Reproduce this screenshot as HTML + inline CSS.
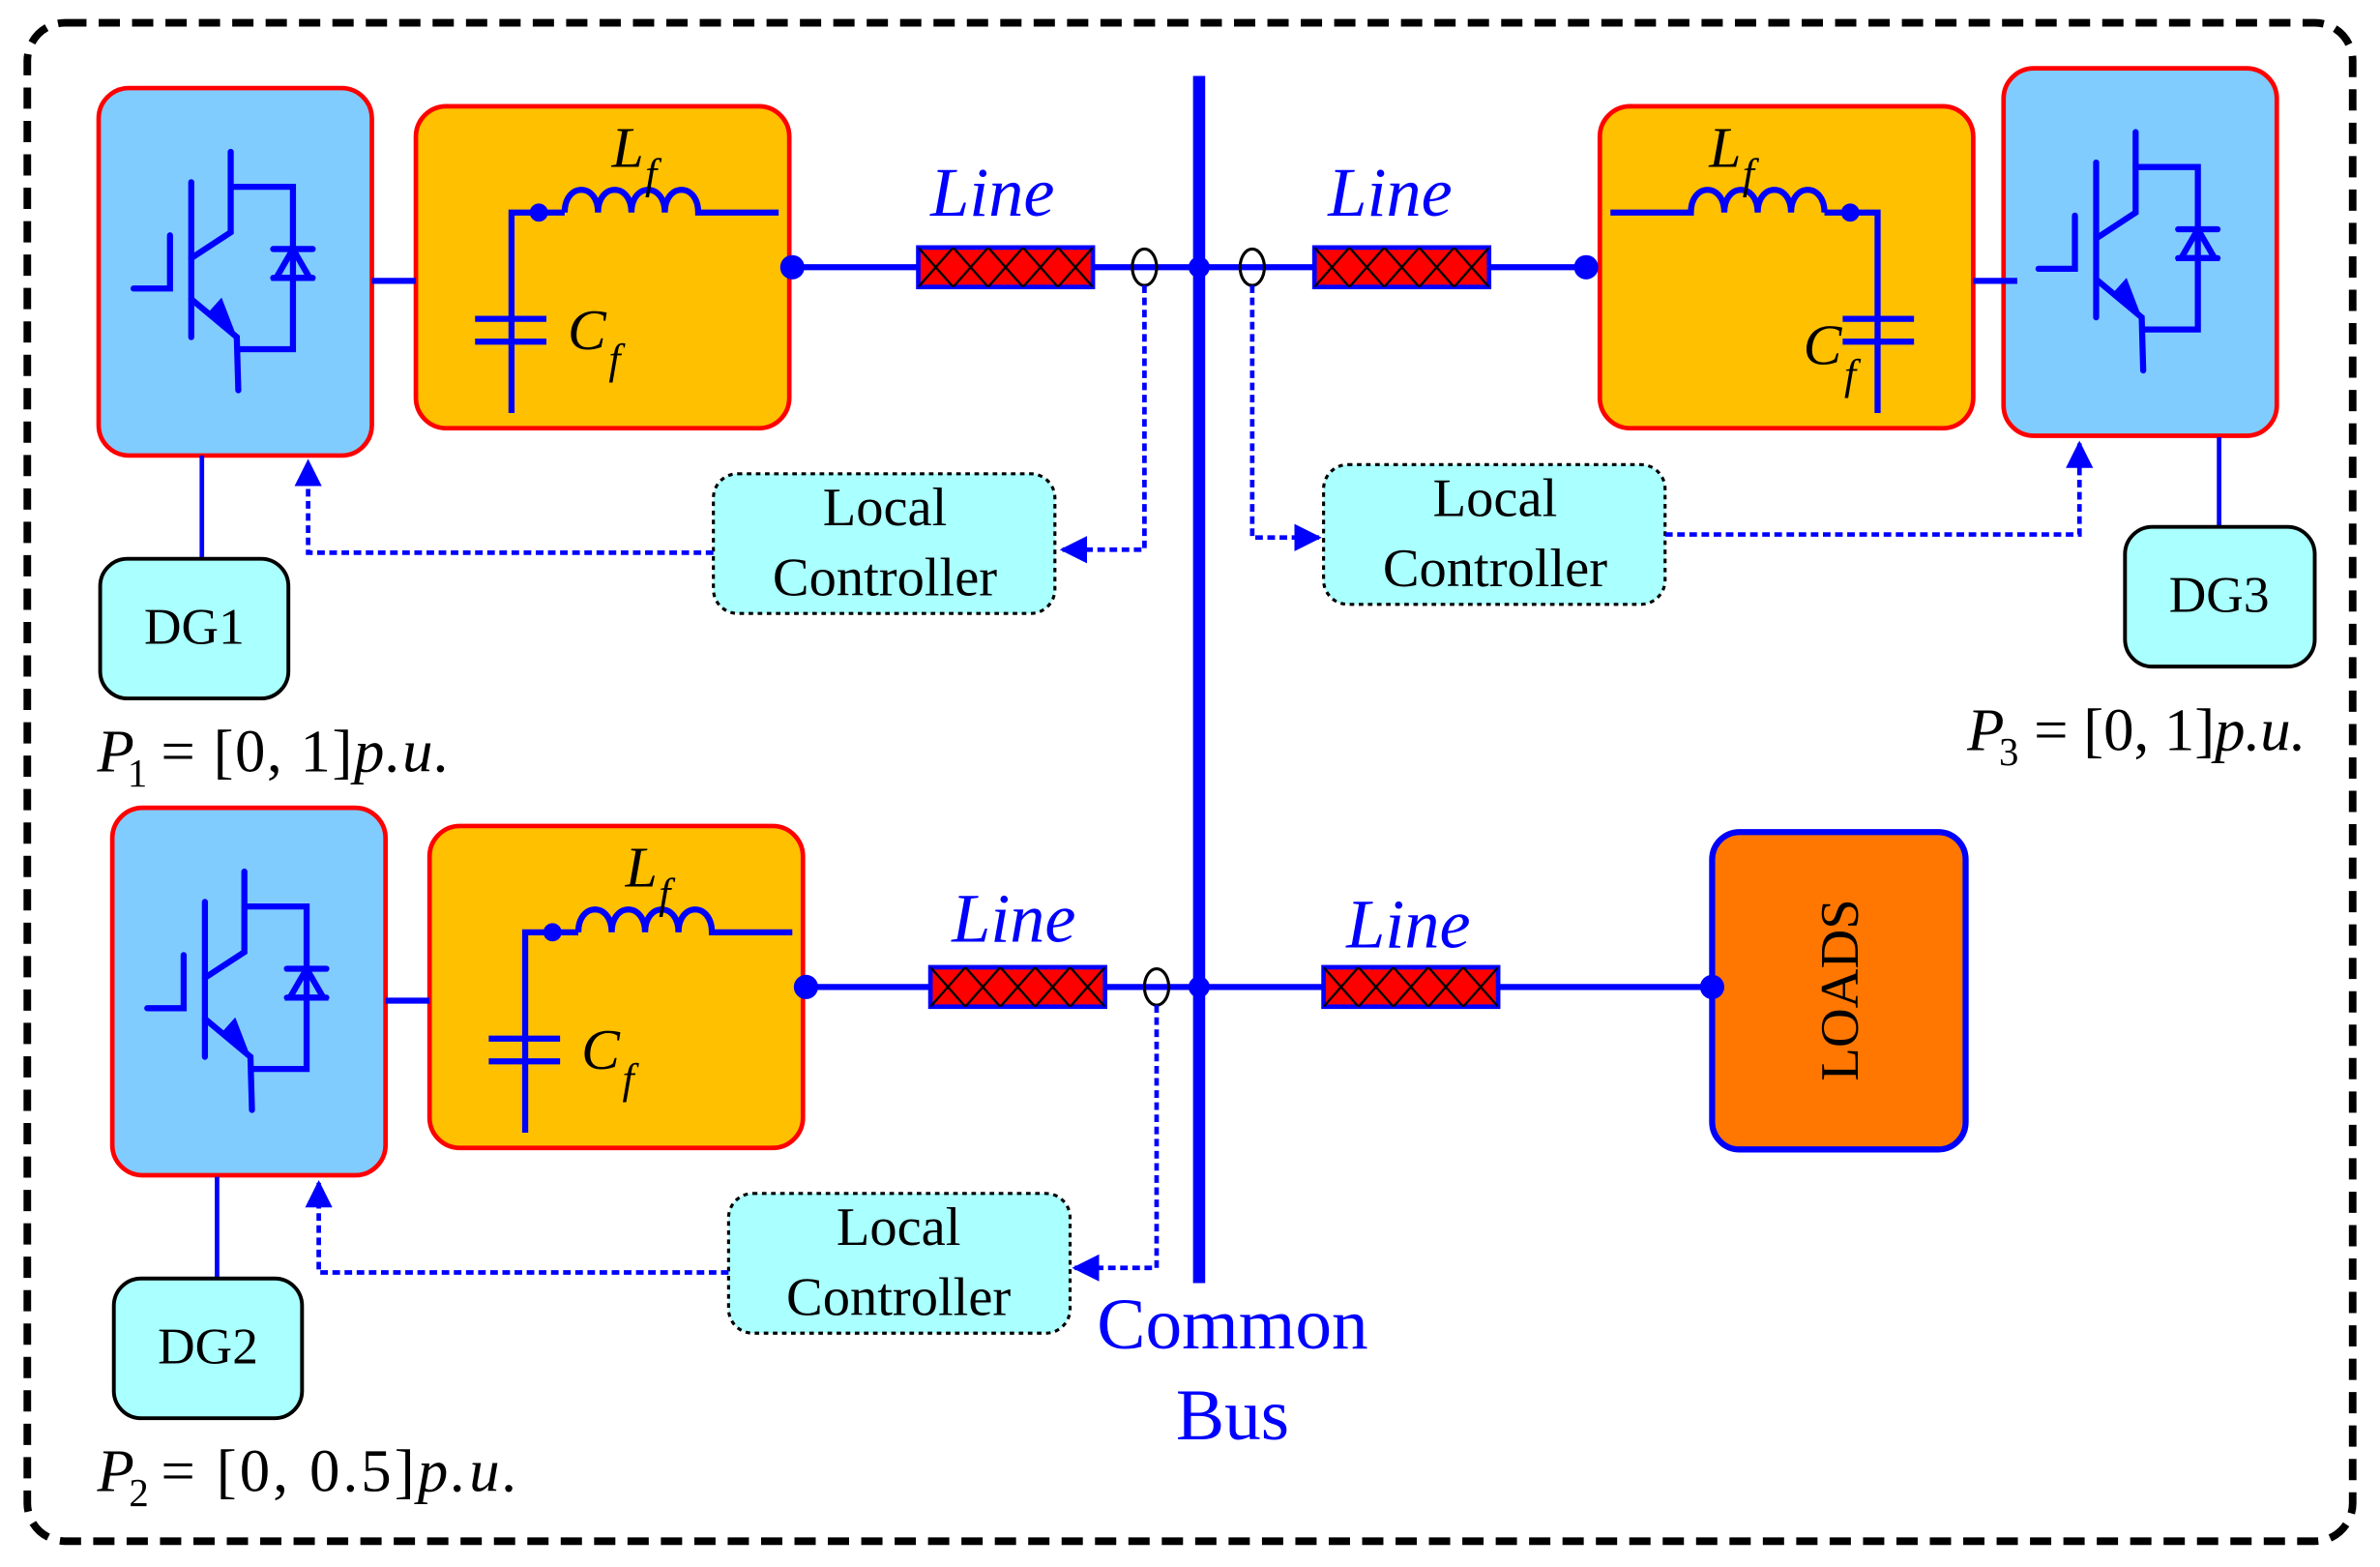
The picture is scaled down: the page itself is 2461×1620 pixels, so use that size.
<!DOCTYPE html>
<html><head><style>html,body{margin:0;padding:0;background:#fff}svg{display:block}</style></head><body>
<svg width="2461" height="1620" viewBox="0 0 1568 1032" preserveAspectRatio="none" xmlns="http://www.w3.org/2000/svg" font-family="Liberation Serif, serif">
<defs>
<g id="inv">
<rect x="65" y="58" width="180" height="242" rx="20" fill="#80ccff" stroke="#f00" stroke-width="3"/>
<g stroke="#00f" stroke-width="4" fill="none" stroke-linecap="round">
<polyline points="88,190 112,190 112,155"/>
<line x1="126" y1="120" x2="126" y2="222"/>
<polyline points="126,170 152,153 152,100"/>
<polyline points="152,123 193,123 193,230 157,230"/>
<polyline points="126,197 156,222 157,257"/>
<line x1="180" y1="164" x2="206" y2="164"/>
<line x1="180" y1="183" x2="206" y2="183"/>
<polygon points="193,164 182,183 204,183"/>
</g>
<polygon points="156,222 137,206 146,196" fill="#00f"/>
</g>
<g id="filt">
<rect x="274" y="70" width="246" height="212" rx="20" fill="#ffc000" stroke="#f00" stroke-width="3"/>
<g stroke="#00f" stroke-width="4" fill="none">
<polyline points="337,272 337,140 372,140"/>
<line x1="313" y1="210" x2="360" y2="210"/>
<line x1="313" y1="225" x2="360" y2="225"/>
<path d="M372,140 C372,120 394,120 394,140 C394,120 416,120 416,140 C416,120 438,120 438,140 C438,120 460,120 460,140 L513,140"/>
</g>
<circle cx="355" cy="140" r="6" fill="#00f"/>
<line x1="245" y1="185" x2="274" y2="185" stroke="#00f" stroke-width="4"/>
</g>
<pattern id="hatch" width="23" height="26" patternUnits="userSpaceOnUse"><path d="M0,0 L23,26 M23,0 L0,26" stroke="#000" stroke-width="1.5"/></pattern>
<g id="res"><rect x="0" y="0" width="115" height="26" fill="#f00" stroke="#00f" stroke-width="3"/><rect x="0" y="0" width="115" height="26" fill="url(#hatch)"/></g>
<marker id="ar" viewBox="0 0 10 10" refX="9" refY="5" markerWidth="6" markerHeight="6" orient="auto"><path d="M0,0 L10,5 L0,10z" fill="#00f"/></marker>
</defs>
<rect x="18" y="15" width="1532" height="1000" rx="25" fill="none" stroke="#000" stroke-width="5" stroke-dasharray="14,8"/>
<line x1="790" y1="50" x2="790" y2="845" stroke="#00f" stroke-width="8"/>
<!-- module 1 -->
<use href="#inv"/><use href="#filt"/>
<line x1="522" y1="176" x2="790" y2="176" stroke="#00f" stroke-width="4"/>
<circle cx="522" cy="176" r="8" fill="#00f"/>
<use href="#res" x="605" y="163"/>
<ellipse cx="754" cy="176" rx="8" ry="12" fill="none" stroke="#000" stroke-width="2"/>
<circle cx="790" cy="176" r="7" fill="#00f"/>
<text x="403" y="110" font-size="38" font-style="italic">L</text><text x="425" y="124" font-size="28" font-style="italic">f</text>
<text x="374" y="230" font-size="38" font-style="italic">C</text><text x="401" y="246" font-size="28" font-style="italic">f</text>
<text x="613" y="142" font-size="46" font-style="italic" fill="#00f">Line</text>
<line x1="133" y1="300" x2="133" y2="368" stroke="#00f" stroke-width="3"/>
<rect x="66" y="368" width="124" height="92" rx="18" fill="#aff" stroke="#000" stroke-width="2.5"/>
<text x="128" y="424" font-size="34" text-anchor="middle">DG1</text>
<polyline points="754,188 754,362 700,362" fill="none" stroke="#00f" stroke-width="3" stroke-dasharray="5,3" marker-end="url(#ar)"/>
<rect x="470" y="312" width="225" height="92" rx="16" fill="#aff" stroke="#000" stroke-width="2" stroke-dasharray="3,3"/>
<text x="583" y="346" font-size="36" text-anchor="middle">Local</text><text x="583" y="392" font-size="36" text-anchor="middle">Controller</text>
<polyline points="470,364 203,364 203,304" fill="none" stroke="#00f" stroke-width="3" stroke-dasharray="5,3" marker-end="url(#ar)"/>
<text x="64" y="508" font-size="40" font-style="italic">P</text><text x="84" y="518" font-size="26">1</text><text x="106" y="508" font-size="40" letter-spacing="1">= [0, 1]<tspan font-style="italic">p.u.</tspan></text>
<!-- module 2 -->
<g transform="translate(9,474)"><use href="#inv"/><use href="#filt"/></g>
<line x1="531" y1="650" x2="1128" y2="650" stroke="#00f" stroke-width="4"/>
<circle cx="531" cy="650" r="8" fill="#00f"/>
<use href="#res" x="613" y="637"/>
<use href="#res" x="872" y="637"/>
<ellipse cx="762" cy="650" rx="8" ry="12" fill="none" stroke="#000" stroke-width="2"/>
<circle cx="790" cy="650" r="7" fill="#00f"/>
<text x="412" y="584" font-size="38" font-style="italic">L</text><text x="434" y="598" font-size="28" font-style="italic">f</text>
<text x="383" y="704" font-size="38" font-style="italic">C</text><text x="410" y="720" font-size="28" font-style="italic">f</text>
<text x="627" y="620" font-size="46" font-style="italic" fill="#00f">Line</text>
<text x="887" y="624" font-size="46" font-style="italic" fill="#00f">Line</text>
<line x1="143" y1="775" x2="143" y2="842" stroke="#00f" stroke-width="3"/>
<rect x="75" y="842" width="124" height="92" rx="18" fill="#aff" stroke="#000" stroke-width="2.5"/>
<text x="137" y="898" font-size="34" text-anchor="middle">DG2</text>
<polyline points="762,662 762,835 708,835" fill="none" stroke="#00f" stroke-width="3" stroke-dasharray="5,3" marker-end="url(#ar)"/>
<rect x="480" y="786" width="225" height="92" rx="16" fill="#aff" stroke="#000" stroke-width="2" stroke-dasharray="3,3"/>
<text x="592" y="820" font-size="36" text-anchor="middle">Local</text><text x="592" y="866" font-size="36" text-anchor="middle">Controller</text>
<polyline points="480,838 210,838 210,779" fill="none" stroke="#00f" stroke-width="3" stroke-dasharray="5,3" marker-end="url(#ar)"/>
<text x="64" y="982" font-size="40" font-style="italic">P</text><text x="85" y="992" font-size="26">2</text><text x="106" y="982" font-size="40" letter-spacing="2">= [0, 0.5]<tspan font-style="italic">p.u.</tspan></text>
<!-- loads -->
<rect x="1128" y="548" width="167" height="209" rx="18" fill="#ff7700" stroke="#00f" stroke-width="4"/>
<circle cx="1128" cy="650" r="8" fill="#00f"/>
<text transform="translate(1224,652) rotate(-90)" font-size="36" text-anchor="middle">LOADS</text>
<!-- module 3 -->
<g transform="translate(1255,-13)"><use href="#inv"/></g>
<g transform="translate(1574,0) scale(-1,1)"><use href="#filt"/></g>
<line x1="790" y1="176" x2="1045" y2="176" stroke="#00f" stroke-width="4"/>
<circle cx="1045" cy="176" r="8" fill="#00f"/>
<use href="#res" x="866" y="163"/>
<ellipse cx="825" cy="176" rx="8" ry="12" fill="none" stroke="#000" stroke-width="2"/>
<text x="1126" y="110" font-size="38" font-style="italic">L</text><text x="1148" y="124" font-size="28" font-style="italic">f</text>
<text x="1188" y="240" font-size="38" font-style="italic">C</text><text x="1215" y="256" font-size="28" font-style="italic">f</text>
<text x="875" y="142" font-size="46" font-style="italic" fill="#00f">Line</text>
<line x1="1462" y1="288" x2="1462" y2="347" stroke="#00f" stroke-width="3"/>
<rect x="1400" y="347" width="125" height="92" rx="18" fill="#aff" stroke="#000" stroke-width="2.5"/>
<text x="1462" y="403" font-size="34" text-anchor="middle">DG3</text>
<polyline points="825,188 825,354 869,354" fill="none" stroke="#00f" stroke-width="3" stroke-dasharray="5,3" marker-end="url(#ar)"/>
<rect x="872" y="306" width="225" height="92" rx="16" fill="#aff" stroke="#000" stroke-width="2" stroke-dasharray="3,3"/>
<text x="985" y="340" font-size="36" text-anchor="middle">Local</text><text x="985" y="386" font-size="36" text-anchor="middle">Controller</text>
<polyline points="1097,352 1370,352 1370,292" fill="none" stroke="#00f" stroke-width="3" stroke-dasharray="5,3" marker-end="url(#ar)"/>
<text x="1296" y="494" font-size="40" font-style="italic">P</text><text x="1317" y="504" font-size="26">3</text><text x="1340" y="494" font-size="40">= [0, 1]<tspan font-style="italic">p.u.</tspan></text>
<text x="812" y="888" font-size="48" fill="#00f" text-anchor="middle">Common</text>
<text x="812" y="948" font-size="48" fill="#00f" text-anchor="middle">Bus</text>
</svg>
</body></html>
